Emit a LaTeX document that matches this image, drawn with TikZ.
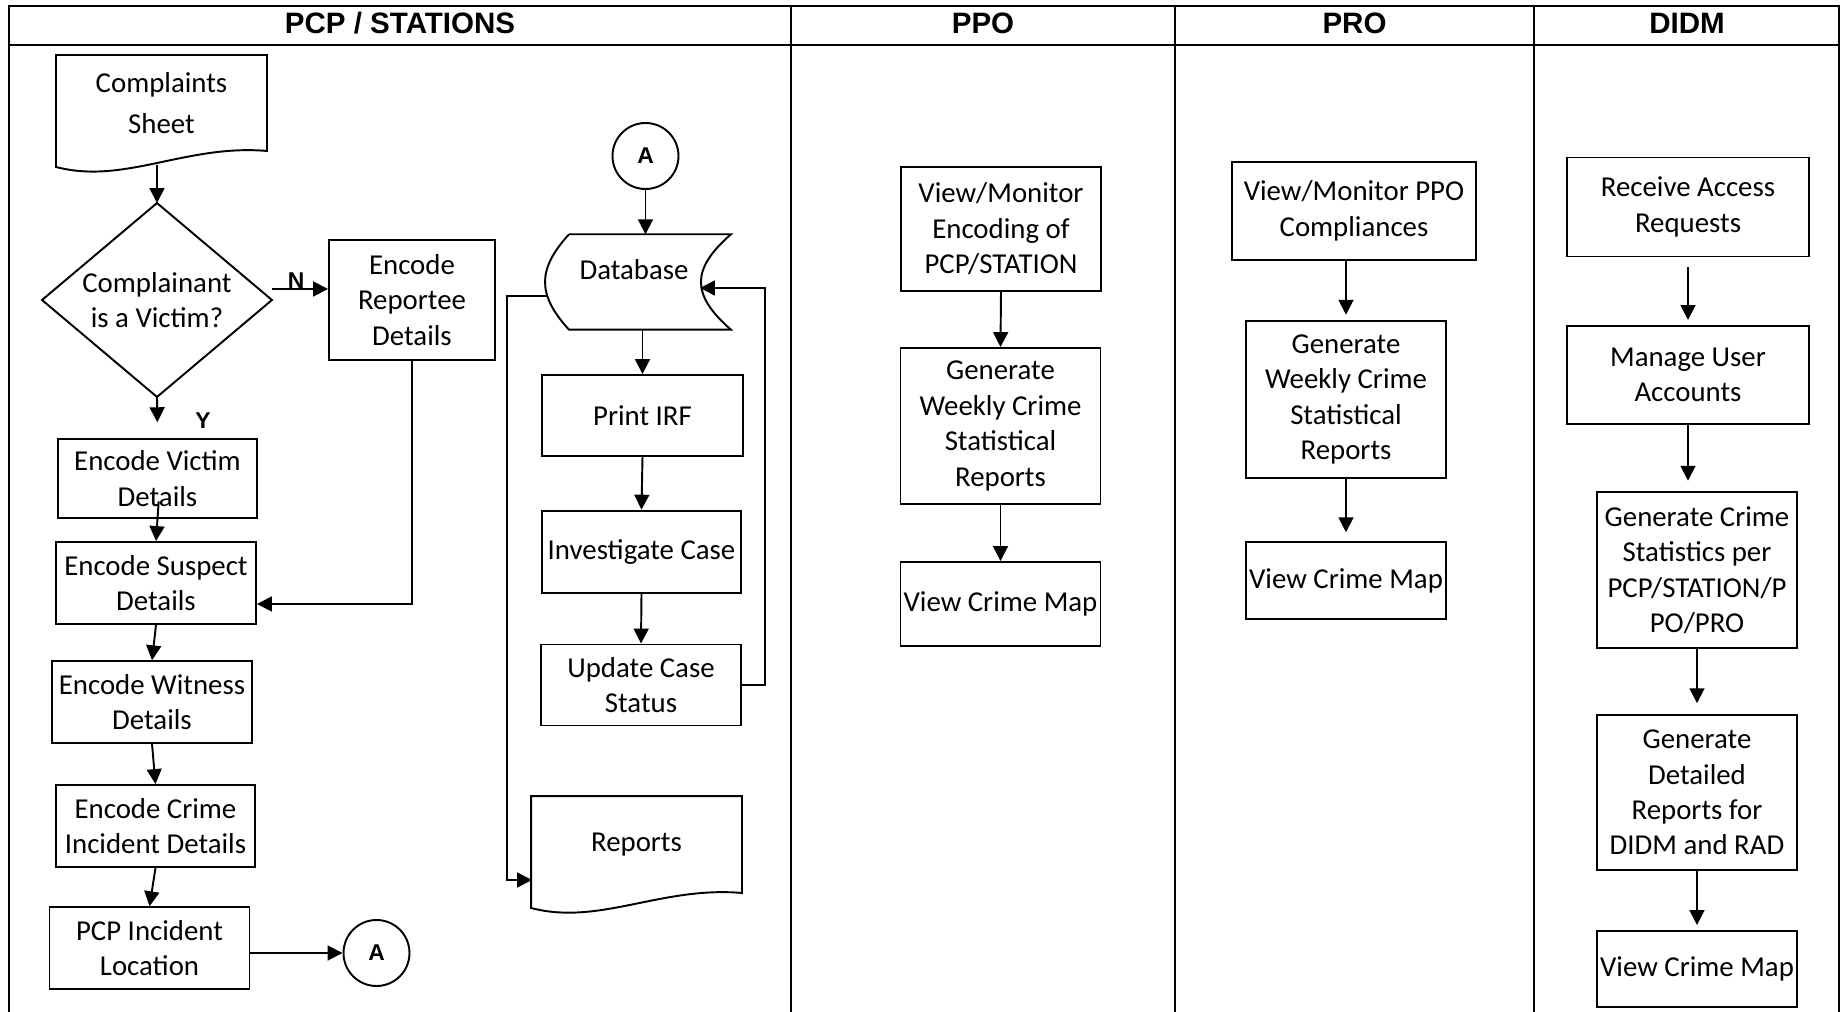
\documentclass[tikz,border=0pt]{standalone}
\usepackage{fontspec}
\setmainfont{Carlito}
\newfontfamily\headfont{Liberation Sans}
\usetikzlibrary{arrows.meta,calc}

\begin{document}
\begin{tikzpicture}[x=0.2mm, y=-0.2mm, line width=1.1pt,
    box/.style={draw, align=center, inner sep=0.5pt, font=\fontsize{16.4}{20.2}\selectfont},
    arr/.style={-{Triangle[length=8.5pt,width=8.5pt]}},
    conn/.style={draw, circle, minimum size=13.2mm, inner sep=0pt, font=\headfont\bfseries\fontsize{13}{13}\selectfont},
    lbl/.style={inner sep=0pt, font=\headfont\bfseries\fontsize{13}{13}\selectfont},
    head/.style={anchor=base, inner sep=0pt, font=\headfont\bfseries\fontsize{16.8}{17}\selectfont}]
    \useasboundingbox (0,0) rectangle (1842,1012);
    \draw (9,1012) |- (1839,6) -- (1839,1012);
    \draw (9,45) -- (1839,45);
    \foreach \x in {791,1175,1534} \draw (\x,6) -- (\x,1012);
    \node[head] (hpcp) at (400,33.5) {PCP / STATIONS};
    \node[head] (hppo) at (983,33.5) {PPO};
    \node[head] (hpro) at (1354.5,33.5) {PRO};
    \node[head] (hdidm) at (1687,33.5) {DIDM};

    \node[box, draw=none, minimum width=41.8mm, minimum height=18.8mm, font=\fontsize{16.4}{23.2}\selectfont] (sheet) at (161.5,103) {Complaints\\Sheet};
    \draw (sheet.north west) -- (sheet.north east) -- (sheet.south east) .. controls +(-81,-7) and +(68,18) .. ($(sheet.south west)+(0,16)$) -- cycle;
    \node[box, draw=none, minimum width=45.6mm, minimum height=38.4mm] (dec) at (157,300) {Complainant\\is a Victim?};
    \draw (dec.north) -- (dec.east) -- (dec.south) -- (dec.west) -- cycle;
    \node[box, minimum width=33.2mm, minimum height=24mm] (rep) at (412,300) {Encode\\Reportee\\Details};
    \node[box, minimum width=39.8mm, minimum height=15.8mm] (vic) at (157.5,478.5) {Encode Victim\\Details};
    \node[box, minimum width=40mm, minimum height=16.4mm] (sus) at (156,583) {Encode Suspect\\Details};
    \node[box, minimum width=40mm, minimum height=16.3mm] (wit) at (152,702) {Encode Witness\\Details};
    \node[box, minimum width=39.8mm, minimum height=16.4mm] (cri) at (155.5,826) {Encode Crime\\Incident Details};
    \node[box, minimum width=40mm, minimum height=16.3mm] (loc) at (149.5,948) {PCP Incident\\Location};
    \node[conn] (aout) at (376.5,953) {A};

    \node[conn] (ain) at (645.5,156) {A};
    \node[minimum width=32mm, minimum height=18.7mm, inner sep=0pt] (db) at (650,282) {};
    \draw (db.north west) -- (db.north east) .. controls +(-40,35) and +(-40,-35) .. (db.south east) -- (db.south west) .. controls +(-32,-35) and +(-32,35) .. (db.north west);
    \node[box, draw=none] (dbl) at (634,270) {Database};
    \node[box, minimum width=40.2mm, minimum height=16.2mm] (prt) at (642.5,415.5) {Print IRF};
    \node[box, minimum width=39.8mm, minimum height=16.4mm] (inv) at (641.5,551.6) {Investigate Case};
    \node[box, minimum width=40mm, minimum height=16.2mm] (upd) at (641,685) {Update Case\\Status};
    \node[box, draw=none, minimum width=41.8mm, minimum height=19mm] (rpt) at (636.5,844.5) {Reports};
    \draw (rpt.north west) -- (rpt.north east) -- (rpt.south east) .. controls +(-81,-7) and +(68,18) .. ($(rpt.south west)+(0,15)$) -- cycle;
    \coordinate (dbin) at (700,288);
    \coordinate (dbout) at (547,296);
    \coordinate (rptin) at (532,880);

    \node[box, minimum width=40mm, minimum height=24.8mm] (ppo1) at (1001,229) {View/Monitor\\Encoding of\\PCP/STATION};
    \node[box, minimum width=40mm, minimum height=31.2mm] (ppo2) at (1000.5,426) {Generate\\Weekly Crime\\Statistical\\Reports};
    \node[box, minimum width=40mm, minimum height=16.8mm] (ppo3) at (1000.5,604) {View Crime Map};

    \node[box, minimum width=48.8mm, minimum height=19.6mm] (pro1) at (1354,211) {View/Monitor PPO\\Compliances};
    \node[box, minimum width=40mm, minimum height=31.4mm] (pro2) at (1346,399.5) {Generate\\Weekly Crime\\Statistical\\Reports};
    \node[box, minimum width=40mm, minimum height=15.4mm] (pro3) at (1346,580.5) {View Crime Map};

    \node[box, minimum width=48.5mm, minimum height=19.8mm] (did1) at (1688,207) {Receive Access\\Requests};
    \node[box, minimum width=48.5mm, minimum height=19.5mm] (did2) at (1688,375) {Manage User\\Accounts};
    \node[box, minimum width=40mm, minimum height=31.1mm] (did3) at (1697,570) {Generate Crime\\Statistics per\\PCP/STATION/P\\PO/PRO};
    \node[box, minimum width=40mm, minimum height=31.1mm] (did4) at (1697,792.5) {Generate\\Detailed\\Reports for\\DIDM and RAD};
    \node[box, minimum width=40mm, minimum height=15.1mm] (did5) at (1697,969) {View Crime Map};

    \draw[arr, shorten <=8pt] (sheet.south -| dec.north) -- (dec.north);
    \draw[arr] ($(dec.east)+(0,-11)$) -- ($(rep.west)+(0,-11)$) node[lbl, pos=0.43, above=0pt] {N};
    \draw[arr, shorten >=9pt] (dec.south) -- (vic.north) node[lbl, pos=0.58, right=7.4mm] {Y};
    \draw[arr, shorten <=-10pt] (vic.south) -- (sus.north);
    \draw[arr] (rep.south) |- ($(sus.east)!0.5!(sus.south east)$);
    \draw[arr] (sus.south) -- (wit.north);
    \draw[arr] (wit.south) -- (cri.north);
    \draw[arr] (cri.south) -- (loc.north);
    \draw[arr] (loc.east |- aout.west) -- (aout.west);
    \draw[arr] (ain.south) -- (ain.south |- db.north);
    \draw[arr] (db.south -| prt.north) -- (prt.north);
    \draw[arr] (prt.south) -- (inv.north);
    \draw[arr] (inv.south) -- (upd.north);
    \draw[arr] (upd.east) -- ++(23,0) |- (dbin);
    \draw[arr] (dbout) -- ++(-40,0) |- (rptin);
    \draw[arr] (ppo1.south) -- (ppo2.north);
    \draw[arr] (ppo2.south) -- (ppo3.north);
    \draw[arr, shorten >=3pt] (pro1.south -| pro2.north) -- (pro2.north);
    \draw[arr, shorten >=5pt] (pro2.south) -- (pro3.north);
    \draw[arr, shorten <=5.5pt, shorten >=3pt] (did1.south) -- (did2.north);
    \draw[arr, shorten >=6pt] (did2.south) -- (did2.south |- did3.north);
    \draw[arr, shorten >=6pt] (did3.south) -- (did4.north);
    \draw[arr, shorten >=3pt] (did4.south) -- (did5.north);
\end{tikzpicture}
\end{document}
